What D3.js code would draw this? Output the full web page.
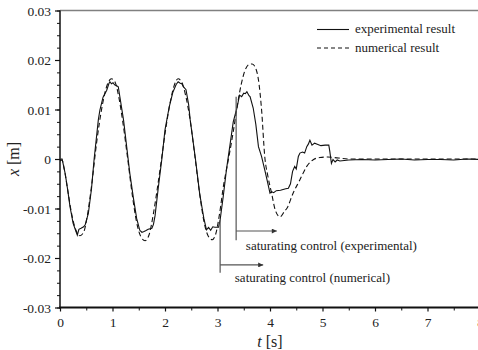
<!DOCTYPE html>
<html><head><meta charset="utf-8">
<script src="https://cdn.jsdelivr.net/npm/d3@7"></script>
<style>
html,body{margin:0;padding:0;background:#fff;}
svg{display:block;}
</style></head>
<body>
<script>
// ---- data ----
const expT = [0.00,0.02,0.04,0.06,0.10,0.15,0.19,0.25,0.30,0.33,0.36,0.40,0.45,0.48,0.50,0.54,0.60,0.65,0.73,0.76,0.82,0.89,0.93,0.95,0.98,1.01,1.04,1.08,1.11,1.21,1.33,1.40,1.46,1.52,1.56,1.59,1.63,1.68,1.75,1.78,1.81,1.87,1.94,2.00,2.08,2.15,2.21,2.25,2.29,2.32,2.35,2.40,2.45,2.48,2.58,2.66,2.74,2.79,2.83,2.87,2.91,2.95,3.02,3.05,3.11,3.17,3.24,3.30,3.37,3.42,3.46,3.50,3.53,3.56,3.60,3.62,3.68,3.73,3.78,3.84,3.90,3.95,4.00,4.03,4.07,4.12,4.20,4.30,4.35,4.39,4.43,4.47,4.50,4.54,4.57,4.62,4.66,4.70,4.73,4.76,4.80,4.85,4.90,4.97,5.05,5.12,5.14,5.17,5.20,5.24,5.28,5.33,5.50,5.75,6.00,6.25,6.50,6.75,7.00,7.25,7.50,7.75,8.00];
const expX = [-0.0004,0.0000,0.0000,-0.0010,-0.0030,-0.0065,-0.0096,-0.0130,-0.0145,-0.0154,-0.0142,-0.0140,-0.0137,-0.0133,-0.0125,-0.0110,-0.0060,0.0000,0.0079,0.0099,0.0125,0.0139,0.0152,0.0156,0.0152,0.0154,0.0150,0.0148,0.0146,0.0079,-0.0029,-0.0080,-0.0120,-0.0144,-0.0148,-0.0147,-0.0145,-0.0142,-0.0140,-0.0132,-0.0115,-0.0060,0.0000,0.0059,0.0105,0.0135,0.0150,0.0156,0.0153,0.0152,0.0146,0.0140,0.0110,0.0079,0.0000,-0.0070,-0.0120,-0.0143,-0.0138,-0.0144,-0.0137,-0.0138,-0.0138,-0.0123,-0.0075,-0.0022,0.0030,0.0075,0.0103,0.0129,0.0126,0.0133,0.0132,0.0136,0.0128,0.0126,0.0103,0.0070,0.0025,0.0005,-0.0022,-0.0045,-0.0069,-0.0066,-0.0068,-0.0064,-0.0063,-0.0060,-0.0059,-0.0050,-0.0025,-0.0015,-0.0020,0.0005,0.0012,0.0014,0.0012,0.0025,0.0030,0.0038,0.0028,0.0032,0.0030,0.0027,0.0028,0.0028,0.0015,-0.0009,-0.0001,-0.0006,-0.0002,-0.0004,-0.0002,-0.0001,-0.0002,-0.0001,0.0000,-0.0002,-0.0001,-0.0001,-0.0002,0.0000,-0.0001,-0.0001];
const numT = [0.00,0.04,0.08,0.15,0.22,0.30,0.38,0.45,0.52,0.60,0.70,0.80,0.90,0.98,1.05,1.12,1.20,1.29,1.38,1.46,1.54,1.62,1.70,1.78,1.86,1.94,2.02,2.10,2.18,2.25,2.32,2.40,2.48,2.57,2.66,2.74,2.82,2.90,2.97,3.04,3.12,3.17,3.24,3.30,3.38,3.45,3.52,3.60,3.66,3.72,3.78,3.84,3.90,3.96,4.03,4.10,4.19,4.28,4.32,4.44,4.57,4.70,4.83,4.95,5.10,5.30,5.50,6.00,7.00,8.00];
const numX = [-0.0004,-0.0002,-0.0020,-0.0065,-0.0110,-0.0143,-0.0155,-0.0148,-0.0115,-0.0055,0.0035,0.0105,0.0150,0.0162,0.0155,0.0125,0.0072,0.0000,-0.0075,-0.0128,-0.0157,-0.0165,-0.0152,-0.0110,-0.0055,0.0005,0.0065,0.0115,0.0150,0.0162,0.0155,0.0125,0.0078,0.0005,-0.0070,-0.0125,-0.0155,-0.0163,-0.0150,-0.0110,-0.0050,-0.0022,0.0018,0.0055,0.0110,0.0150,0.0178,0.0191,0.0192,0.0185,0.0160,0.0099,0.0005,-0.0035,-0.0069,-0.0103,-0.0117,-0.0105,-0.0100,-0.0069,-0.0042,-0.0015,-0.0001,0.0003,0.0004,0.0002,0.0000,0.0000,0.0000,0.0000];
const xTickValues = [0,1,2,3,4,5,6,7,8];
const xTickLabels = ["0","1","2","3","4","5","6","7","8"];
const yTickValues = [-0.03,-0.02,-0.01,0,0.01,0.02,0.03];
const yTickLabels = ["-0.03","-0.02","-0.01","0","0.01","0.02","0.03"];
const seriesNames = ["experimental result","numerical result"];
const annotLabels = ["saturating control (experimental)","saturating control (numerical)"];
const annotT = [3.355, 3.05];
const annotTop = [0.0126, -0.0123];
const annotBottom = [-0.0164, -0.0230];
const annotArrowY = [-0.01455, -0.0214];
const annotArrowEnd = [4.13, 3.87];
const annotTextT = [3.54, 3.33];
const annotTextY = [-0.0183, -0.0249];

// ---- font choice: first installed serif, sizes scaled to the reference text widths ----
const cv = document.createElement("canvas").getContext("2d");
function w(font, s) { cv.font = font; return cv.measureText(s).width; }
const probe = "experimental result 0.03";
const cands = ["Liberation Serif","Times New Roman","Tinos","Nimbus Roman","Nimbus Roman No9 L","FreeSerif","Noto Serif","DejaVu Serif"];
let FONT = "serif";
for (const c of cands) {
  if (w(`100px '${c}', monospace`, probe) !== w("100px monospace", probe)) { FONT = c; break; }
}
const FAM = `'${FONT}', serif`;
const K = 100 / w(`13px ${FAM}`, "experimental result"); // reference legend text is ~100px wide
const fs = s => s * K * 13 / 13;

// ---- layout ----
const W = 478, H = 350;
const svg = d3.select("body").append("svg").attr("width", W).attr("height", H)
  .style("font-family", FAM);
const x = d3.scaleLinear().domain([0, 8]).range([60, 480]);
const y = d3.scaleLinear().domain([-0.03, 0.03]).range([307.5, 10.5]);

svg.append("line").attr("x1", 60).attr("x2", W).attr("y1", y(0.03)).attr("y2", y(0.03))
  .attr("stroke", "#808080").attr("stroke-width", 1.5);

const yMinor = d3.range(-0.03, 0.03001, 0.0025);
const gyMinor = svg.append("g").attr("transform", "translate(60,0)")
  .call(d3.axisLeft(y).tickValues(yMinor).tickSize(3).tickFormat(""));
gyMinor.select(".domain").remove();
gyMinor.selectAll("line").attr("stroke", "#111").attr("stroke-width", 1);

const gy = svg.append("g").attr("transform", "translate(60,0)")
  .call(d3.axisLeft(y).tickValues(yTickValues).tickSize(5).tickPadding(4)
  .tickFormat((d, i) => yTickLabels[i]));
gy.attr("font-family", FAM).attr("font-size", fs(13.5));
gy.select(".domain").attr("stroke", "#111").attr("stroke-width", 1.5).attr("d", `M0,${y(0.03)}V${y(-0.03)+1}`);
gy.selectAll("line").attr("stroke", "#111").attr("stroke-width", 1.2);
gy.selectAll("text").attr("fill", "#222").attr("dy", "0.34em");

const xMinor = d3.range(0.5, 8, 1);
const gxMinor = svg.append("g").attr("transform", `translate(0,${y(-0.03)})`)
  .call(d3.axisBottom(x).tickValues(xMinor).tickSize(3).tickFormat(""));
gxMinor.select(".domain").remove();
gxMinor.selectAll("line").attr("stroke", "#111").attr("stroke-width", 1);

const gx = svg.append("g").attr("transform", `translate(0,${y(-0.03)})`)
  .call(d3.axisBottom(x).tickValues(xTickValues).tickSize(4).tickPadding(6)
  .tickFormat((d, i) => xTickLabels[i]));
gx.attr("font-family", FAM).attr("font-size", fs(13.5));
gx.select(".domain").attr("stroke", "#111").attr("stroke-width", 2.2).attr("d", `M59,0H${W}`);
gx.selectAll("line").attr("stroke", "#111").attr("stroke-width", 1.2);
gx.selectAll("text").attr("fill", "#222");

const xl = svg.append("text").attr("x", 270).attr("y", 346.5).attr("text-anchor", "middle")
  .attr("font-size", fs(16)).attr("fill", "#222");
xl.append("tspan").attr("font-style", "italic").text("t");
xl.append("tspan").text(" [s]");
const yl = svg.append("text").attr("transform", `translate(18.5,${y(0)}) rotate(-90)`)
  .attr("text-anchor", "middle").attr("font-size", fs(16)).attr("fill", "#222");
yl.append("tspan").attr("font-style", "italic").text("x");
yl.append("tspan").text(" [m]");

// curves
const expData = expT.map((t, i) => [t, expX[i]]);
const numData = numT.map((t, i) => [t, numX[i]]);
const lineLin = d3.line().x(d => x(d[0])).y(d => y(d[1]));
const lineSm = d3.line().x(d => x(d[0])).y(d => y(d[1])).curve(d3.curveMonotoneX);
svg.append("clipPath").attr("id", "c").append("rect")
  .attr("x", 60).attr("y", 10).attr("width", 420).attr("height", 298);
svg.append("path").datum(numData).attr("d", lineSm).attr("fill", "none")
  .attr("stroke", "#111").attr("stroke-width", 1.1).attr("stroke-dasharray", "5,3")
  .attr("clip-path", "url(#c)");
svg.append("path").datum(expData).attr("d", lineLin).attr("fill", "none")
  .attr("stroke", "#111").attr("stroke-width", 1.1).attr("clip-path", "url(#c)");

// legend
const lg = [ {y: 29.5, dash: null}, {y: 48, dash: "4,3"} ];
lg.forEach((l, i) => {
  svg.append("line").attr("x1", 317).attr("x2", 349).attr("y1", l.y).attr("y2", l.y)
    .attr("stroke", "#111").attr("stroke-width", 1.1).attr("stroke-dasharray", l.dash);
  svg.append("text").attr("x", 355).attr("y", l.y + 3.5).attr("font-size", fs(13))
    .attr("fill", "#222").text(seriesNames[i]);
});

// annotations
svg.append("defs").append("marker").attr("id", "ah").attr("viewBox", "0 0 10 10").attr("refX", 10).attr("refY", 5)
  .attr("markerWidth", 8).attr("markerHeight", 5).attr("markerUnits", "userSpaceOnUse").attr("orient", "auto")
  .append("path").attr("d", "M0,0L10,5L0,10Z").attr("fill", "#333");
annotLabels.forEach((lab, i) => {
  svg.append("line").attr("x1", x(annotT[i])).attr("x2", x(annotT[i]))
    .attr("y1", y(annotTop[i])).attr("y2", y(annotBottom[i])).attr("stroke", "#555").attr("stroke-width", 1.2);
  svg.append("line").attr("x1", x(annotT[i])).attr("x2", x(annotArrowEnd[i]))
    .attr("y1", y(annotArrowY[i])).attr("y2", y(annotArrowY[i])).attr("stroke", "#555").attr("stroke-width", 1.2)
    .attr("marker-end", "url(#ah)");
  svg.append("text").attr("x", x(annotTextT[i])).attr("y", y(annotTextY[i])).attr("font-size", fs(13))
    .attr("fill", "#222").text(lab);
});
</script>
</body></html>
